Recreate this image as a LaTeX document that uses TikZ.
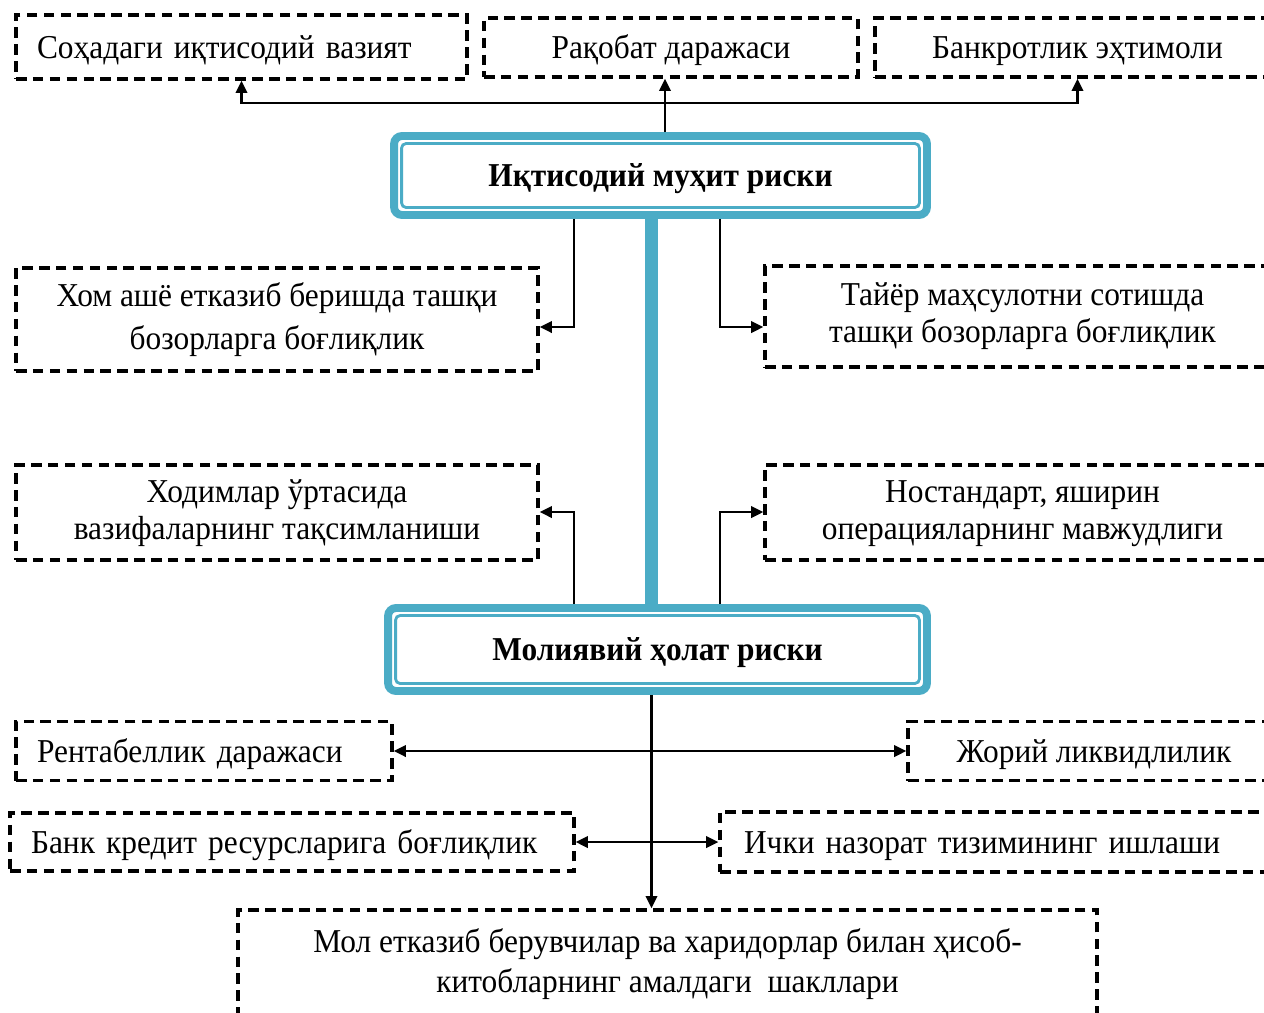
\documentclass[tikz,border=0pt]{standalone}
\usepackage{fontspec}
\setmainfont{Liberation Serif}[FakeStretch=0.94]
\usetikzlibrary{arrows.meta}
\definecolor{tealc}{RGB}{75,172,198}
\begin{document}
\begin{tikzpicture}[x=0.02cm,y=-0.02cm,
  dbox/.style={draw, line width=1.9pt, dash pattern=on 6pt off 3.6pt, inner sep=0pt, align=center, font=\fontsize{19}{21}\selectfont},
  oneline/.style={text height=14pt, text depth=1.4pt},
  lbox/.style={dbox, oneline, align=left, inner xsep=0.42cm},
  mainbox/.style={draw=tealc, line width=4.5pt, rounded corners=4.5pt, fill=white, font=\fontsize{19}{21}\selectfont\bfseries, inner sep=0pt, oneline},
  innerline/.style={draw=tealc, line width=1.6pt, rounded corners=2.5pt},
  arr/.style={line width=1.4pt, -{Triangle[length=7pt,width=6.5pt]}},
  darr/.style={line width=1.4pt, {Triangle[length=7pt,width=6.5pt]}-{Triangle[length=7pt,width=6.5pt]}},
  bar/.style={draw=tealc, line width=7pt}]
\useasboundingbox (0,0) rectangle (1264,1012);

% top row
\node[lbox, text width=8.18cm, minimum height=1.28cm] (t1) at (241.5,47) {\mbox{Соҳадаги иқтисодий вазият}};
\node[dbox, oneline, minimum width=7.48cm, minimum height=1.18cm] (t2) at (671,47.5) {Рақобат даражаси};
\node[dbox, oneline, minimum width=8.1cm, minimum height=1.18cm] (t3) at (1077.5,47.5) {Банкротлик эҳтимоли};

% main boxes
\node[mainbox, minimum width=10.66cm, minimum height=1.58cm] (m1) at (660.5,175.5) {Иқтисодий муҳит риски};
\draw[innerline] ([shift={(11.5,11.5)}]m1.north west) rectangle ([shift={(-11.5,-11.5)}]m1.south east);
\node[mainbox, minimum width=10.78cm, minimum height=1.66cm] (m2) at (657.5,649.5) {Молиявий ҳолат риски};
\draw[innerline] ([shift={(11.5,11.5)}]m2.north west) rectangle ([shift={(-11.5,-11.5)}]m2.south east);

% side boxes
\node[dbox, minimum width=10.44cm, minimum height=2.06cm, font=\fontsize{19}{24.4}\selectfont] (l1) at (277,319.5) {Хом ашё етказиб беришда ташқи\\бозорларга боғлиқлик};
\node[dbox, minimum width=10.3cm, minimum height=2.02cm] (r1) at (1022.5,316.5) {Тайёр маҳсулотни сотишда\\ташқи бозорларга боғлиқлик};
\node[dbox, minimum width=10.44cm, minimum height=1.9cm] (l2) at (277,512.5) {\\[-7pt]Ходимлар ўртасида\\вазифаларнинг тақсимланиши};
\node[dbox, minimum width=10.3cm, minimum height=1.9cm] (r2) at (1022.5,512.5) {\\[-7pt]Ностандарт, яширин\\операцияларнинг мавжудлиги};

% lower boxes
\node[lbox, text width=6.68cm, minimum height=1.18cm] (p) at (204,751) {\mbox{Рентабеллик даражаси}};
\node[dbox, oneline, minimum width=7.44cm, minimum height=1.18cm] (j) at (1094,751) {Жорий ликвидлилик};
\node[lbox, text width=10.44cm, minimum height=1.16cm] (k) at (292,842) {\mbox{Банк кредит ресурсларига боғлиқлик}};
\node[lbox, inner xsep=0.48cm, text width=10.24cm, minimum height=1.2cm] (ic) at (1000,842) {\mbox{Ички назорат тизимининг ишлаши}};
\node[dbox, minimum width=17.18cm, minimum height=2.16cm, font=\fontsize{19}{22.7}\selectfont] (b) at (667.5,964) {Мол етказиб берувчилар ва харидорлар билан ҳисоб-\\китобларнинг амалдаги~ шакллари};

% coordinates for connector columns
\coordinate (jt) at (665,103);
\coordinate (a1) at (574,327);
\coordinate (b1) at (720,327);
\coordinate (a2) at (574,512);
\coordinate (b2) at (720,512);
\coordinate (cb) at (651.5,0);

% top connectors
\draw[arr] (jt |- m1.north) -- (jt |- t2.south);
\draw[arr] (jt) -| (t1.south);
\draw[arr] (jt) -| (t3.south);

% thick bar
\draw[bar] (cb |- m1.south) -- (cb |- m2.north);

% side connectors
\draw[arr] (a1 |- m1.south) |- (a1 -| l1.east);
\draw[arr] (b1 |- m1.south) |- (b1 -| r1.west);
\draw[arr] (a2 |- m2.north) |- (a2 -| l2.east);
\draw[arr] (b2 |- m2.north) |- (b2 -| r2.west);

% bottom connectors
\draw[arr] (cb |- m2.south) -- (cb |- b.north);
\draw[darr] (p.east) -- (j.west);
\draw[darr] (k.east) -- (ic.west);
\end{tikzpicture}
\end{document}
